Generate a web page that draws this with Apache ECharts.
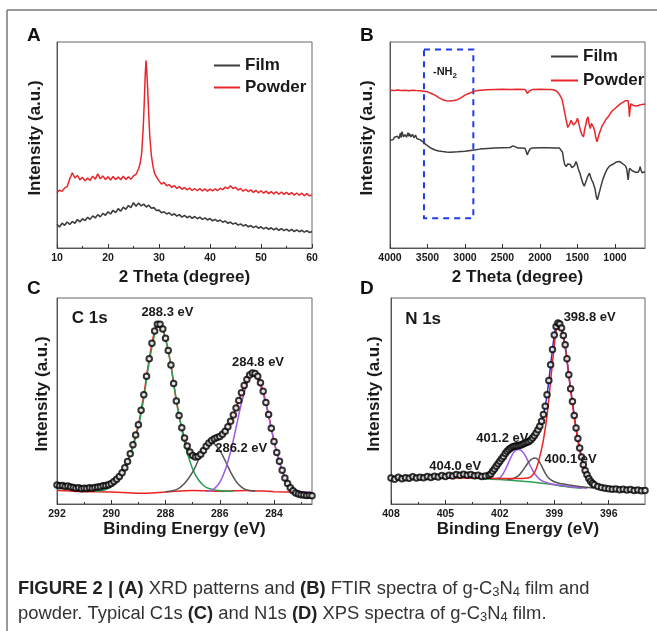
<!DOCTYPE html>
<html>
<head>
<meta charset="utf-8">
<script src="https://cdn.jsdelivr.net/npm/echarts@6/dist/echarts.min.js"></script>
<style>
html,body{margin:0;padding:0;background:#fff;}
#chart{width:657px;height:631px;}
</style>
</head>
<body>
<div id="chart"></div>
<script>
// ---------- Panel A : XRD (2 Theta, intensity a.u.) ----------
const xrdFilm = [[10,11.5],[10.5,10.2],[11,12.1],[11.5,11.0],[12,12.6],[12.5,11.4],[13,12.9],[13.5,12.0],[14,13.8],[14.5,12.7],[15,14.2],[15.5,13.3],[16,14.9],[16.5,13.9],[17,15.6],[17.5,14.6],[18,16.2],[18.5,15.1],[19,16.8],[19.5,15.9],[20,17.6],[20.5,16.5],[21,18.3],[21.5,17.2],[22,19.1],[22.5,17.9],[23,19.8],[23.5,18.8],[24,20.6],[24.5,19.6],[25,22.0],[25.5,20.3],[26,21.8],[26.5,20.4],[27,21.3],[27.5,19.9],[28,20.8],[28.5,19.3],[29,19.6],[29.5,18.2],[30,18.4],[30.5,17.1],[31,17.6],[31.5,16.5],[32,17.1],[32.5,15.9],[33,16.6],[33.5,15.5],[34,16.2],[34.5,15.0],[35,15.8],[35.5,14.7],[36,15.5],[36.5,14.4],[37,15.3],[37.5,14.2],[38,15.0],[38.5,13.9],[39,14.6],[39.5,13.6],[40,14.3],[40.5,13.2],[41,13.9],[41.5,12.9],[42,13.6],[42.5,12.5],[43,13.1],[43.5,12.0],[44,12.6],[44.5,11.6],[45,12.2],[45.5,11.1],[46,11.7],[46.5,10.7],[47,11.3],[47.5,10.3],[48,10.9],[48.5,9.9],[49,10.6],[49.5,9.6],[50,10.3],[50.5,9.3],[51,10.0],[51.5,9.1],[52,9.8],[52.5,8.8],[53,9.6],[53.5,8.6],[54,9.4],[54.5,8.4],[55,9.2],[55.5,8.2],[56,9.0],[56.5,8.0],[57,8.8],[57.5,7.9],[58,8.6],[58.5,7.7],[59,8.4],[59.5,7.5],[60,8.0]];
const xrdPowder = [[10,26.8],[10.5,28.1],[11,27.5],[11.5,29.2],[12,29.8],[12.5,33.5],[13,36.5],[13.5,34.0],[14,35.2],[14.5,33.1],[15,34.3],[15.5,32.6],[16,34.0],[16.5,32.8],[17,34.9],[17.5,33.4],[18,36.0],[18.5,33.6],[19,35.0],[19.5,33.2],[20,34.6],[20.5,33.0],[21,34.7],[21.5,33.2],[22,34.5],[22.5,33.1],[23,34.8],[23.5,33.2],[24,34.6],[24.5,33.4],[25,35.0],[25.5,35.8],[26,38.5],[26.3,41],[26.6,46],[26.9,58],[27.1,70],[27.3,84],[27.45,91],[27.6,86],[27.8,76],[28.0,64],[28.2,54],[28.5,45],[28.8,40],[29.1,36.5],[29.5,34.5],[30,32.6],[30.5,31.0],[31,31.8],[31.5,30.2],[32,30.8],[32.5,29.4],[33,30.3],[33.5,28.9],[34,29.8],[34.5,28.5],[35,29.4],[35.5,28.2],[36,29.1],[36.5,27.9],[37,28.9],[37.5,27.8],[38,28.8],[38.5,27.7],[39,28.7],[39.5,27.6],[40,28.6],[40.5,27.7],[41,28.7],[41.5,27.9],[42,29.0],[42.5,28.3],[43,29.6],[43.5,28.8],[44,30.2],[44.5,28.9],[45,29.5],[45.5,28.1],[46,28.9],[46.5,27.6],[47,28.5],[47.5,27.3],[48,28.2],[48.5,27.0],[49,28.0],[49.5,26.8],[50,27.8],[50.5,26.6],[51,27.6],[51.5,26.4],[52,27.4],[52.5,26.3],[53,27.3],[53.5,26.1],[54,27.2],[54.5,26.0],[55,27.0],[55.5,25.9],[56,26.9],[56.5,25.7],[57,26.7],[57.5,25.6],[58,26.6],[58.5,25.4],[59,26.4],[59.5,25.3],[60,25.8]];
const xrdTicks = [10,20,30,40,50,60];
const xrdMinorTicks = [15,25,35,45,55];

// ---------- Panel B : FTIR ----------
const ftirPowder = [[4000,76.6],[3950,76.4],[3900,76.7],[3850,76.5],[3800,76.6],[3750,76.3],[3700,76.6],[3650,76.4],[3600,76.3],[3550,76.1],[3500,75.8],[3450,75.0],[3400,74.2],[3350,73.0],[3300,72.0],[3250,71.5],[3200,71.4],[3150,71.6],[3100,72.0],[3050,73.0],[3000,74.2],[2950,75.0],[2900,75.8],[2850,76.3],[2800,76.6],[2700,76.8],[2600,77.0],[2500,77.1],[2400,77.0],[2300,77.1],[2200,77.0],[2180,76.2],[2165,75.0],[2150,76.0],[2130,76.8],[2100,77.0],[2000,77.1],[1900,77.0],[1850,76.9],[1800,76.6],[1770,75.8],[1740,74.5],[1710,72.5],[1690,69.5],[1670,65.5],[1650,62.0],[1630,58.5],[1615,58.0],[1600,60.5],[1585,62.0],[1570,61.5],[1555,59.7],[1540,59.5],[1520,61.0],[1500,63.0],[1480,60.0],[1460,57.0],[1440,55.0],[1420,54.0],[1405,57.5],[1390,59.7],[1375,62.5],[1360,63.7],[1345,60.0],[1330,58.0],[1315,60.5],[1300,60.5],[1285,58.5],[1270,56.5],[1255,53.5],[1240,51.6],[1225,53.5],[1210,55.6],[1190,57.5],[1170,59.5],[1150,60.5],[1120,62.5],[1090,63.7],[1060,65.5],[1030,66.8],[1000,67.7],[960,69.0],[920,70.2],[890,70.8],[860,71.5],[840,71.9],[825,71.5],[815,68.0],[808,63.7],[800,67.0],[790,70.0],[770,69.6],[740,69.0],[710,68.9],[680,69.3],[650,69.6],[620,69.8],[600,69.8]];
const ftirFilm = [[4000,52.4],[3980,53.2],[3960,52.6],[3940,53.8],[3920,53.0],[3900,54.2],[3880,53.1],[3860,55.8],[3850,53.6],[3840,56.5],[3820,54.0],[3800,55.0],[3780,53.8],[3760,56.0],[3750,54.2],[3740,55.6],[3720,53.9],[3700,55.2],[3680,53.5],[3660,54.8],[3640,53.0],[3620,53.6],[3600,52.6],[3570,51.8],[3550,51.2],[3520,50.2],[3500,49.5],[3450,48.4],[3400,47.6],[3350,47.1],[3300,46.8],[3250,46.6],[3200,46.5],[3100,46.7],[3000,47.0],[2900,47.5],[2800,48.0],[2700,48.3],[2600,48.5],[2500,48.7],[2400,48.8],[2360,49.6],[2340,49.0],[2300,48.6],[2250,48.5],[2200,48.4],[2185,47.0],[2170,45.2],[2155,46.5],[2130,48.2],[2100,48.6],[2000,48.7],[1900,48.7],[1800,48.6],[1740,48.5],[1720,48.3],[1700,46.5],[1685,43.0],[1670,40.5],[1650,39.5],[1630,40.8],[1610,41.5],[1595,40.5],[1575,39.0],[1560,38.7],[1540,40.0],[1520,42.0],[1505,40.5],[1490,38.5],[1470,36.5],[1450,34.0],[1430,31.5],[1410,30.0],[1395,30.5],[1380,33.0],[1365,34.7],[1350,35.5],[1340,36.3],[1325,34.5],[1310,33.0],[1295,32.0],[1280,31.5],[1265,28.5],[1250,25.0],[1235,23.4],[1220,25.5],[1200,28.2],[1180,31.0],[1160,33.5],[1140,35.5],[1110,38.0],[1080,39.5],[1050,40.3],[1020,40.8],[1000,41.0],[980,41.8],[960,42.2],[940,42.0],[920,41.5],[900,41.0],[880,40.3],[860,39.8],[845,38.5],[835,36.0],[825,33.0],[815,36.5],[805,38.7],[790,38.3],[770,37.5],[750,37.0],[730,36.8],[710,36.5],[690,36.8],[675,38.0],[665,39.5],[655,38.0],[640,36.5],[620,36.8],[600,37.0]];
const ftirTicks = [1000,1500,2000,2500,3000,3500,4000];
const nh2Box = [[3547,96.3],[2889,14.5]];
const nh2Label = [3267,85.4];

// ---------- Panel C : C 1s XPS ----------
const c1sData = [[292.0,9.2],[291.9,8.8],[291.8,9.0],[291.7,8.5],[291.6,8.7],[291.5,8.3],[291.4,8.0],[291.3,7.6],[291.2,7.9],[291.1,7.4],[291.0,7.7],[290.9,7.5],[290.8,7.9],[290.7,7.6],[290.6,8.0],[290.5,8.2],[290.4,8.4],[290.3,8.8],[290.2,9.0],[290.1,9.4],[290.0,10.0],[289.9,10.9],[289.8,12.0],[289.7,13.4],[289.6,15.2],[289.5,17.6],[289.4,20.6],[289.3,24.4],[289.2,28.8],[289.1,33.5],[289.0,38.5],[288.9,45.5],[288.8,53.0],[288.7,62.0],[288.6,70.5],[288.5,78.0],[288.4,84.0],[288.3,87.2],[288.2,87.3],[288.1,85.0],[288.0,80.5],[287.9,74.5],[287.8,67.5],[287.7,58.5],[287.6,50.0],[287.5,43.0],[287.4,37.0],[287.3,32.0],[287.2,28.2],[287.1,25.3],[287.0,23.5],[286.9,22.8],[286.8,23.0],[286.7,24.2],[286.6,26.0],[286.5,28.0],[286.4,29.6],[286.3,30.8],[286.2,31.7],[286.1,32.3],[286.0,32.8],[285.9,33.8],[285.8,35.3],[285.7,37.5],[285.6,40.2],[285.5,43.2],[285.4,46.6],[285.3,50.3],[285.2,54.0],[285.1,57.5],[285.0,60.4],[284.9,62.6],[284.8,63.6],[284.7,63.4],[284.6,62.0],[284.5,58.8],[284.4,54.7],[284.3,49.3],[284.2,43.4],[284.1,36.8],[284.0,30.4],[283.9,25.0],[283.8,20.7],[283.7,16.4],[283.6,12.6],[283.5,10.0],[283.4,7.9],[283.3,6.4],[283.2,5.4],[283.1,4.8],[283.0,4.5],[282.9,4.4],[282.8,4.1],[282.7,4.3],[282.6,4.0]];
const c1sBackground = [[292,6.5],[291,6.0],[290,5.8],[289,5.2],[288,5.8],[287,6.6],[286,6.2],[285,6.6],[284,6.0],[283,5.6],[282.6,5.5]];
const c1sPeak2883 = [[290.6,6.2],[290.2,7.0],[289.9,9.5],[289.6,14.5],[289.3,23.5],[289.0,37.5],[288.8,51.5],[288.6,69.0],[288.4,82.5],[288.3,86.5],[288.2,86.3],[288.0,80.0],[287.8,67.0],[287.6,50.5],[287.4,36.0],[287.2,25.0],[287.0,17.0],[286.8,12.0],[286.6,9.0],[286.4,7.5],[286.0,6.4],[285.5,6.2]];
const c1sPeak2862 = [[288.0,6.0],[287.6,7.0],[287.3,10.0],[287.0,15.5],[286.8,21.0],[286.6,26.5],[286.4,29.5],[286.3,29.8],[286.2,29.2],[286.0,26.0],[285.8,21.0],[285.6,15.5],[285.4,11.0],[285.2,8.2],[285.0,6.8],[284.7,6.2]];
const c1sPeak2848 = [[286.5,6.0],[286.2,7.5],[286.0,10.5],[285.8,16.5],[285.6,25.5],[285.4,37.0],[285.2,49.0],[285.0,58.5],[284.85,63.0],[284.7,62.5],[284.5,57.5],[284.3,48.5],[284.1,36.5],[283.9,25.0],[283.7,16.0],[283.5,10.5],[283.3,7.5],[283.0,6.0],[282.6,5.6]];
const c1sTicks = [284,286,288,290,292];
const c1sMinorTicks = [283,285,287,289,291];
const c1sLabels = [['C 1s',290.79,90.3],['288.3 eV',287.93,93.2],['284.8 eV',284.59,68.9],['286.2 eV',285.21,27.2]];

// ---------- Panel D : N 1s XPS ----------
const n1sData = [[408.0,12.6],[407.8,12.0],[407.6,13.0],[407.4,12.3],[407.2,12.8],[407.0,12.5],[406.8,13.2],[406.6,12.6],[406.4,13.0],[406.2,12.7],[406.0,13.4],[405.8,12.9],[405.6,13.5],[405.4,13.1],[405.2,13.8],[405.0,13.4],[404.8,14.0],[404.6,13.6],[404.4,14.3],[404.2,13.9],[404.0,14.5],[403.8,14.0],[403.6,14.3],[403.4,13.7],[403.2,13.9],[403.0,13.4],[402.8,13.6],[402.6,14.0],[402.5,14.6],[402.4,15.9],[402.3,17.0],[402.2,18.3],[402.1,19.5],[402.0,20.7],[401.9,22.0],[401.8,23.1],[401.7,24.5],[401.6,25.6],[401.5,26.5],[401.4,27.2],[401.3,27.7],[401.2,28.0],[401.1,28.2],[401.0,28.3],[400.9,28.5],[400.8,28.8],[400.7,29.2],[400.6,29.6],[400.5,30.0],[400.4,30.4],[400.3,31.1],[400.2,32.0],[400.1,33.1],[400.0,34.5],[399.9,36.0],[399.8,37.7],[399.7,40.2],[399.6,43.4],[399.5,47.5],[399.4,53.0],[399.3,60.0],[399.2,67.6],[399.1,75.0],[399.0,82.0],[398.9,86.2],[398.8,87.9],[398.7,87.4],[398.6,85.4],[398.5,81.8],[398.4,77.3],[398.3,70.5],[398.2,62.8],[398.1,56.0],[398.0,49.8],[397.9,43.0],[397.8,36.9],[397.7,31.8],[397.6,27.2],[397.5,22.8],[397.4,19.1],[397.3,16.3],[397.2,14.2],[397.1,12.4],[397.0,11.0],[396.9,10.1],[396.8,9.4],[396.6,8.5],[396.4,8.0],[396.2,7.6],[396.0,7.4],[395.8,7.1],[395.6,7.3],[395.4,6.9],[395.2,7.1],[395.0,6.8],[394.8,7.0],[394.6,6.6],[394.4,6.8],[394.2,6.4],[394.0,6.5]];
const n1sBackground = [[403.5,12.5],[403.0,12.3],[402.0,11.9],[401.0,11.2],[400.0,10.4],[399.0,9.3],[398.5,8.6],[398.0,8.0],[397.5,7.6]];
const n1sPeak3988 = [[405.0,12.6],[404.0,12.6],[403.0,12.5],[402.0,12.4],[401.0,12.4],[400.6,12.5],[400.4,12.7],[400.2,14.0],[400.0,17.0],[399.8,23.0],[399.6,31.0],[399.4,43.0],[399.2,60.0],[399.0,77.0],[398.9,84.0],[398.8,87.0],[398.7,86.8],[398.6,84.5],[398.4,76.0],[398.2,62.0],[398.0,48.5],[397.8,36.0],[397.6,26.0],[397.4,18.5],[397.2,13.5],[397.0,10.5],[396.8,9.0],[396.6,8.0]];
const n1sPeak4012 = [[402.3,12.2],[402.0,12.8],[401.8,15.0],[401.6,18.5],[401.4,22.5],[401.2,25.5],[401.0,26.4],[400.8,25.8],[400.6,23.5],[400.4,20.0],[400.2,16.5],[400.0,13.8],[399.8,12.0],[399.5,10.6],[399.2,9.8],[398.8,9.2],[398.3,8.6],[397.8,8.1],[397.2,7.7]];
const n1sPeak4001 = [[401.6,12.0],[401.3,12.3],[401.0,13.5],[400.8,15.5],[400.6,18.0],[400.4,20.5],[400.2,22.0],[400.05,22.3],[399.9,21.5],[399.7,18.5],[399.5,15.0],[399.3,12.5],[399.0,10.8],[398.6,9.8],[398.0,9.0],[397.4,8.3],[396.8,7.8]];
const n1sTicks = [396,399,402,405,408];
const n1sMinorTicks = [397.5,400.5,403.5,406.5];
const n1sLabels = [['N 1s',406.23,89.8],['398.8 eV',397.05,90.8],['401.2 eV',401.86,32.0],['400.1 eV',398.10,21.8],['404.0 eV',404.46,18.4]];

// ---------- styling ----------
const FONT = '"Liberation Sans", Arial, sans-serif';
const NARROW = '"Liberation Sans Narrow", "Liberation Sans", sans-serif';
const TXT = '#1a1a1a';
const AX = '#555';
const RED = '#e8262b', GRAY = '#3d3d3d', GREEN = '#2e9e55', PURPLE = '#9b5ce0', FITRED = '#ee2222', BLUE = '#2233dd';

const grids = [
  {left:57, top:42, width:255, height:206},
  {left:390, top:42, width:255, height:206},
  {left:57, top:298, width:255, height:206},
  {left:391, top:298, width:254, height:206}
];

function xAx(grid, min, max, ticks, name, nameGap, inverse) {
  return {
    type:'value', gridIndex:grid, min:min, max:max, inverse:!!inverse,
    name:name, nameLocation:'middle', nameGap:nameGap,
    nameTextStyle:{fontFamily:FONT, fontSize:17, fontWeight:'bold', color:TXT},
    axisLine:{show:true, lineStyle:{color:AX, width:1}},
    axisTick:{show:true, inside:true, length:4, customValues:ticks, lineStyle:{color:'#333'}},
    axisLabel:{show:true, customValues:ticks, margin:5, fontFamily:FONT, fontSize:10.5, fontWeight:'bold', color:TXT,
               formatter:function (v) { return String(v); }},
    splitLine:{show:false}
  };
}
function minorAx(grid, min, max, ticks, inverse) {
  return {
    type:'value', gridIndex:grid, min:min, max:max, inverse:!!inverse, position:'bottom',
    axisLine:{show:false},
    axisTick:{show:true, inside:true, length:2, customValues:ticks, lineStyle:{color:'#333'}},
    axisLabel:{show:false}, splitLine:{show:false}
  };
}
function yAx(grid, pad) {
  return {
    type:'value', gridIndex:grid, min:0, max:100,
    name:'Intensity (a.u.)', nameLocation:'middle', nameGap:pad,
    nameTextStyle:{fontFamily:FONT, fontSize:17, fontWeight:'bold', color:TXT, padding:[0,0,0,14]},
    axisLine:{show:true, lineStyle:{color:AX, width:1}},
    axisTick:{show:false}, axisLabel:{show:false}, splitLine:{show:false}
  };
}
function labelPoints(list) {
  return list.map(function (l) {
    const isTitle = l[0].indexOf('1s') >= 0;
    return {name:l[0], coord:[l[1], l[2]], symbol:'circle', symbolSize:1, itemStyle:{color:'rgba(0,0,0,0)'},
      label:{show:true, position:'inside', formatter:'{b}', fontFamily:FONT, fontWeight:'bold',
             fontSize:isTitle?17:13, color:TXT}};
  });
}

const option = {
  animation:false,
  backgroundColor:'#fff',
  textStyle:{fontFamily:FONT},
  grid: grids.map(function (g) { return Object.assign({show:true, borderColor:'#666', borderWidth:1, backgroundColor:'transparent'}, g); }),
  xAxis: [
    xAx(0, 10, 60, xrdTicks, '2 Theta (degree)', 21, false),
    xAx(1, 600, 4000, ftirTicks, '2 Theta (degree)', 21, true),
    xAx(2, 282.6, 292, c1sTicks, 'Binding Energy (eV)', 17, true),
    xAx(3, 394, 408, n1sTicks, 'Binding Energy (eV)', 17, true),
    minorAx(0, 10, 60, xrdMinorTicks, false),
    minorAx(2, 282.6, 292, c1sMinorTicks, true),
    minorAx(3, 394, 408, n1sMinorTicks, true)
  ],
  yAxis: [yAx(0, 13), yAx(1, 14), yAx(2, 6), yAx(3, 8)],
  legend: [
    {data:['Film','Powder'], left:209, top:52, orient:'vertical', icon:'rect', itemWidth:26, itemHeight:2, itemGap:5,
     textStyle:{fontFamily:FONT, fontSize:17, fontWeight:'bold', color:TXT}, selectedMode:false},
    {data:['Film','Powder'], left:546, top:43, orient:'vertical', icon:'rect', itemWidth:27, itemHeight:2, itemGap:7,
     textStyle:{fontFamily:FONT, fontSize:17, fontWeight:'bold', color:TXT}, selectedMode:false}
  ],
  series: [
    // A
    {type:'line', name:'Film', xAxisIndex:0, yAxisIndex:0, data:xrdFilm, symbol:'none', lineStyle:{color:GRAY, width:1.6}, itemStyle:{color:GRAY}},
    {type:'line', name:'Powder', xAxisIndex:0, yAxisIndex:0, data:xrdPowder, symbol:'none', lineStyle:{color:RED, width:1.5}, itemStyle:{color:RED}},
    // B
    {type:'line', name:'Film', xAxisIndex:1, yAxisIndex:1, data:ftirFilm, symbol:'none', lineStyle:{color:GRAY, width:1.5}, itemStyle:{color:GRAY},
     markArea:{silent:true, itemStyle:{color:'rgba(0,0,0,0)', borderColor:'#1f3df0', borderWidth:2, borderType:[6,5]},
       data:[[{coord:nh2Box[0]},{coord:nh2Box[1]}]]}},
    {type:'line', name:'Powder', xAxisIndex:1, yAxisIndex:1, data:ftirPowder, symbol:'none', lineStyle:{color:RED, width:1.5}, itemStyle:{color:RED},
     markPoint:{silent:true, data:[{name:'-NH2', coord:nh2Label, symbol:'circle', symbolSize:1, itemStyle:{color:'rgba(0,0,0,0)'},
       label:{show:true, position:'inside', formatter:'{a|-NH}{s|2}', rich:{a:{fontFamily:FONT, fontSize:11, fontWeight:'bold', color:TXT}, s:{fontFamily:FONT, fontSize:8, fontWeight:'bold', color:TXT, padding:[7,0,0,0]}}}}]}},
    // C
    {type:'line', xAxisIndex:2, yAxisIndex:2, data:c1sBackground, symbol:'none', smooth:0.3, lineStyle:{color:FITRED, width:1.5}, z:2, silent:true},
    {type:'line', xAxisIndex:2, yAxisIndex:2, data:c1sData, symbol:'none', smooth:0.3, lineStyle:{color:FITRED, width:1.5}, z:2, silent:true},
    {type:'line', xAxisIndex:2, yAxisIndex:2, data:c1sPeak2883, symbol:'none', smooth:0.4, lineStyle:{color:GREEN, width:1.5}, z:3, silent:true},
    {type:'line', xAxisIndex:2, yAxisIndex:2, data:c1sPeak2862, symbol:'none', smooth:0.4, lineStyle:{color:'#555', width:1.5}, z:3, silent:true},
    {type:'line', xAxisIndex:2, yAxisIndex:2, data:c1sPeak2848, symbol:'none', smooth:0.4, lineStyle:{color:PURPLE, width:1.5}, z:3, silent:true},
    {type:'scatter', xAxisIndex:2, yAxisIndex:2, data:c1sData, symbol:'emptyCircle', symbolSize:5.5, itemStyle:{color:'#000', borderWidth:1.1}, z:4, silent:true,
     markPoint:{silent:true, data:labelPoints(c1sLabels)}},
    // D
    {type:'line', xAxisIndex:3, yAxisIndex:3, data:n1sData, symbol:'none', smooth:0.3, lineStyle:{color:BLUE, width:1.5}, z:2, silent:true},
    {type:'line', xAxisIndex:3, yAxisIndex:3, data:n1sBackground, symbol:'none', smooth:0.3, lineStyle:{color:GREEN, width:1.5}, z:3, silent:true},
    {type:'line', xAxisIndex:3, yAxisIndex:3, data:n1sPeak4012, symbol:'none', smooth:0.4, lineStyle:{color:PURPLE, width:1.5}, z:3, silent:true},
    {type:'line', xAxisIndex:3, yAxisIndex:3, data:n1sPeak4001, symbol:'none', smooth:0.4, lineStyle:{color:'#555', width:1.5}, z:3, silent:true},
    {type:'line', xAxisIndex:3, yAxisIndex:3, data:n1sPeak3988, symbol:'none', smooth:0.4, lineStyle:{color:FITRED, width:1.5}, z:3, silent:true},
    {type:'scatter', xAxisIndex:3, yAxisIndex:3, data:n1sData, symbol:'emptyCircle', symbolSize:5.5, itemStyle:{color:'#000', borderWidth:1.1}, z:4, silent:true,
     markPoint:{silent:true, data:labelPoints(n1sLabels)}}
  ],
  graphic: [
    {type:'line', shape:{x1:7, y1:10, x2:657, y2:10}, style:{stroke:'#777', lineWidth:1.5}, silent:true},
    {type:'line', shape:{x1:7, y1:10, x2:7, y2:631}, style:{stroke:'#777', lineWidth:1.5}, silent:true},
    {type:'text', x:27, y:36, style:{text:'A', fontFamily:FONT, fontSize:19, fontWeight:'bold', fill:'#111', verticalAlign:'middle'}},
    {type:'text', x:360, y:36, style:{text:'B', fontFamily:FONT, fontSize:19, fontWeight:'bold', fill:'#111', verticalAlign:'middle'}},
    {type:'text', x:27, y:289, style:{text:'C', fontFamily:FONT, fontSize:19, fontWeight:'bold', fill:'#111', verticalAlign:'middle'}},
    {type:'text', x:360, y:289, style:{text:'D', fontFamily:FONT, fontSize:19, fontWeight:'bold', fill:'#111', verticalAlign:'middle'}},
    {type:'text', x:18, y:576, style:{
      text:'{b|FIGURE 2 | (A)} XRD patterns and {b|(B)} FTIR spectra of g-C{s|3}N{s|4} film and\npowder. Typical C1s {b|(C)} and N1s {b|(D)} XPS spectra of g-C{s|3}N{s|4} film.',
      fontFamily:NARROW, fontSize:18.4, fill:'#333', lineHeight:25, verticalAlign:'top',
      rich:{
        b:{fontFamily:NARROW, fontSize:18.4, fontWeight:'bold', fill:'#222', lineHeight:25},
        s:{fontFamily:NARROW, fontSize:13, fill:'#333', padding:[8,0,0,0], lineHeight:25}
      }}}
  ]
};

const chart = echarts.init(document.getElementById('chart'), null, {renderer:'canvas'});
chart.setOption(option);
</script>
</body>
</html>
